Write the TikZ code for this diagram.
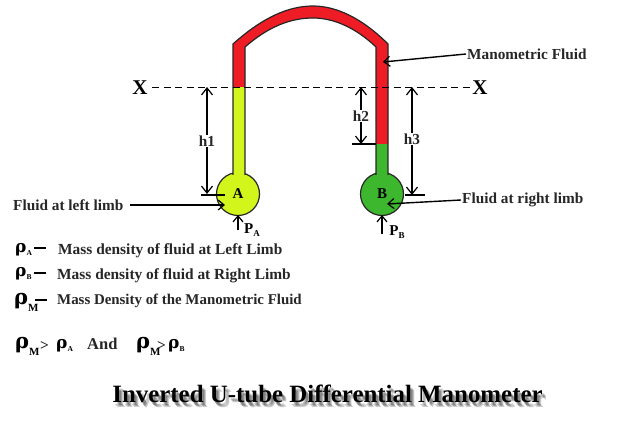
\documentclass[tikz,border=0pt]{standalone}
\usepackage{fontspec}
\setmainfont{Liberation Serif}
\newfontfamily\rhofont{DejaVu Serif}
\usetikzlibrary{arrows.meta}
\definecolor{tubered}{HTML}{EE1C25}
\definecolor{lime}{HTML}{D2F61C}
\definecolor{grn}{HTML}{3DB82E}
\newcommand{\sz}[1]{\fontsize{#1}{#1}\selectfont}
\tikzset{
  tube/.style={draw=black!85,line width=1.2pt},
  lbl/.style={font=\bfseries\sz{15.3},inner sep=1pt,text=black!85},
  dim/.style={line width=1.4pt,{Straight Barb[length=7pt,width=11pt,line width=1.2pt]}-{Straight Barb[length=7pt,width=11pt,line width=1.2pt]}},
  ptr/.style={line width=1.4pt,-{Straight Barb[length=6pt,width=10pt,line width=1.2pt]}},
  tick/.style={line width=1.4pt},
  txt/.style={font=\bfseries\sz{15.4},inner sep=0pt,anchor=west,text=black!85},
  rhoa/.style={inner sep=0pt,anchor=base west,font=\sz{17}},
  rhob/.style={inner sep=0pt,anchor=base west,font=\sz{21}},
  ttl/.style={font=\bfseries\sz{24.9},inner sep=0pt},
}
\newcommand{\rh}[3]{{\rhofont\bfseries ρ}\raisebox{-#3pt}{\bfseries\sz{#2}#1}}
\begin{document}
\begin{tikzpicture}[x=1pt,y=-1pt]
\useasboundingbox (0,0) rectangle (640,427);
% bulbs
\draw[tube,fill=lime] (238,194) circle (21.5);
\draw[tube,fill=grn] (382,194) circle (21.5);
% tube fluids
\fill[lime] (233,87) rectangle (245,182);
\fill[grn] (376,144) rectangle (388,182);
\fill[tubered] (233,87) -- (233,44) .. controls (262,18) and (288,6) .. (313,6) .. controls (338,6) and (364,20) .. (388,44) -- (388,144) -- (376,144) -- (376,47) .. controls (356,28) and (334,18) .. (313,18) .. controls (290,18) and (268,27) .. (245,47) -- (245,87) -- cycle;
% outlines
\draw[tube] (233,175) -- (233,44) .. controls (262,18) and (288,6) .. (313,6) .. controls (338,6) and (364,20) .. (388,44) -- (388,175);
\draw[tube] (245,175) -- (245,47) .. controls (268,27) and (290,18) .. (313,18) .. controls (334,18) and (356,28) .. (376,47) -- (376,175);
% datum
\coordinate (dl) at (152,87);
\coordinate (dr) at (470,87);
\draw[line width=0.9pt,dash pattern=on 7pt off 4.5pt] (dl) -- (dr);
\node[font=\bfseries\sz{21},inner sep=0pt] (xl) at (140,88) {X};
\node[font=\bfseries\sz{21},inner sep=0pt] (xr) at (480,88) {X};
% dimensions
\coordinate (h1t) at (207,87); \coordinate (h1b) at (207,194);
\coordinate (h2t) at (361,87); \coordinate (h2b) at (361,144);
\coordinate (h3t) at (412,87); \coordinate (h3b) at (412,195);
\draw[dim] (h1t) -- (h1b);
\draw[dim] (h2t) -- (h2b);
\draw[dim] (h3t) -- (h3b);
\draw[tick] (201,195) -- (225,195);
\draw[tick] (352,144) -- (376,144);
\draw[tick] (405,195) -- (425,195);
\node[lbl,fill=white] (h1) at (207,141) {h1};
\node[lbl,fill=white] (h2) at (361,116) {h2};
\node[lbl,fill=white] (h3) at (412,139) {h3};
% bulb letters
\node[font=\bfseries\sz{15},inner sep=0pt] (A) at (238,194) {A};
\node[font=\bfseries\sz{15},inner sep=0pt] (B) at (382,194) {B};
% labels and pointers
\node[lbl,anchor=west] (fl) at (12,205) {Fluid at left limb};
\coordinate (flp) at (225,205);
\draw[ptr] (130,205) -- (flp);
\node[lbl,anchor=west] (fr) at (461,200) {Fluid at right limb};
\coordinate (frp) at (387,204);
\draw[ptr] (fr.west) -- (frp);
\node[lbl,anchor=west] (mf) at (466,54) {Manometric Fluid};
\coordinate (mfp) at (383,62);
\draw[ptr] (mf.west) -- (mfp);
\coordinate (pap) at (238,215); \coordinate (pbp) at (382,215);
\draw[ptr] (238,230) -- (pap);
\draw[ptr] (382,234) -- (pbp);
\node[font=\bfseries\sz{15},inner sep=0pt] (PA) at (252,230) {P\raisebox{-3pt}{\sz{9}A}};
\node[font=\bfseries\sz{15},inner sep=0pt] (PB) at (397,232) {P\raisebox{-3pt}{\sz{9}B}};
% legend
\node[rhoa] (r1) at (15,253) {\rh{A}{7.5}{3}};
\node[rhoa] (r2) at (15,277) {\rh{B}{7.5}{3}};
\node[rhob] (r3) at (14,305) {\rh{M}{11}{7}};
\draw[line width=1.3pt] (34,248) -- (46,248);
\draw[line width=1.3pt] (34,273) -- (46,273);
\draw[line width=1.3pt] (35,300) -- (47,300);
\node[txt] (t1) at (58,251) {Mass density of fluid at Left Limb};
\node[txt] (t2) at (57,276) {Mass density of fluid at Right Limb};
\node[txt,font=\bfseries\sz{14.9}] (t3) at (57,301) {Mass Density of the Manometric Fluid};
\node[rhob] (r4) at (15,349) {\rh{M}{11}{7}};
\node[txt] (g1) at (40,346) {>};
\node[rhoa] (r5) at (56,349) {\rh{A}{7.5}{3}};
\node[txt,font=\bfseries\sz{16.5}] (and) at (87,344) {And};
\node[rhob] (r6) at (136,349) {\rh{M}{11}{7}};
\node[txt] (g2) at (157,346) {>};
\node[rhoa] (r7) at (168,349) {\rh{B}{7.5}{3}};
% title with soft shadow
\foreach \dx/\dy in {2/3,3/4,4/5}{
  \node[ttl,text=black,opacity=0.2] at (327.5+\dx,394+\dy) {Inverted U-tube Differential Manometer};
}
\node[ttl] (title) at (327.5,394) {Inverted U-tube Differential Manometer};
\end{tikzpicture}
\end{document}
